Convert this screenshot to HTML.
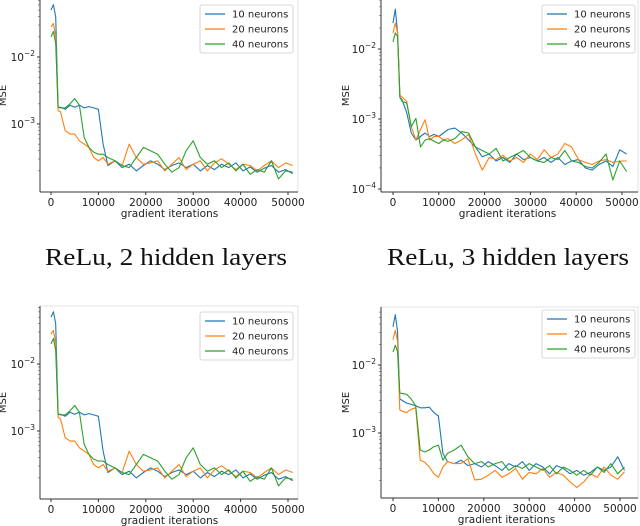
<!DOCTYPE html>
<html><head><meta charset="utf-8">
<style>
html,body{margin:0;padding:0;background:#fff;}
svg{display:block;}
text{font-family:"DejaVu Sans","Liberation Sans",sans-serif;fill:#222;}
.cap{font-family:"Liberation Serif",serif;font-size:24px;fill:#111;}
</style></head>
<body>
<svg id="fig" width="640" height="526" viewBox="0 0 640 526" xmlns="http://www.w3.org/2000/svg">
<text class="cap" x="45" y="265" textLength="242" lengthAdjust="spacingAndGlyphs">ReLu, 2 hidden layers</text>
<text class="cap" x="387" y="265" textLength="242" lengthAdjust="spacingAndGlyphs">ReLu, 3 hidden layers</text>
</svg>
<script>
const iters = [0,500,1000,1500,2000,3000,4000,5000,6000,7000,8000,9000,10000,11000,12000,13500,15000,16500,18000,19500,21000,22500,24000,25500,27000,28500,30000,31500,33000,34500,36000,37500,39000,40500,42000,43500,45000,46500,48000,49500,51000];
const xTicks = [0,10000,20000,30000,40000,50000];
const seriesNames = ["10 neurons","20 neurons","40 neurons"];
const tlBlue = [-1.3,-1.22,-1.4,-2.75,-2.75,-2.78,-2.72,-2.75,-2.72,-2.76,-2.74,-2.76,-2.78,-3.3,-3.62,-3.55,-3.65,-3.6,-3.7,-3.62,-3.55,-3.6,-3.68,-3.62,-3.58,-3.65,-3.6,-3.7,-3.62,-3.68,-3.6,-3.65,-3.58,-3.7,-3.64,-3.72,-3.66,-3.62,-3.72,-3.68,-3.74];
const tlOrange = [-1.55,-1.5,-1.7,-2.8,-2.82,-3.1,-3.15,-3.15,-3.25,-3.3,-3.35,-3.5,-3.55,-3.5,-3.6,-3.55,-3.62,-3.3,-3.5,-3.6,-3.58,-3.55,-3.7,-3.6,-3.5,-3.68,-3.6,-3.55,-3.7,-3.58,-3.52,-3.6,-3.68,-3.6,-3.62,-3.7,-3.62,-3.55,-3.65,-3.58,-3.62];
const tlGreen = [-1.7,-1.62,-1.8,-2.75,-2.76,-2.76,-2.7,-2.62,-2.72,-3.2,-3.35,-3.42,-3.45,-3.45,-3.5,-3.55,-3.62,-3.65,-3.5,-3.35,-3.4,-3.45,-3.6,-3.72,-3.65,-3.4,-3.25,-3.5,-3.6,-3.55,-3.65,-3.58,-3.7,-3.6,-3.75,-3.68,-3.72,-3.55,-3.82,-3.7,-3.72];
const trBlue = [-1.63,-1.43,-1.77,-2.69,-2.73,-2.91,-3.2,-3.3,-3.25,-3.2,-3.25,-3.22,-3.25,-3.2,-3.15,-3.13,-3.2,-3.3,-3.4,-3.54,-3.5,-3.6,-3.55,-3.62,-3.5,-3.58,-3.55,-3.6,-3.55,-3.62,-3.55,-3.65,-3.6,-3.58,-3.7,-3.73,-3.65,-3.6,-3.68,-3.44,-3.5];
const trOrange = [-1.77,-1.63,-1.77,-2.66,-2.69,-2.75,-3.11,-3.3,-3.15,-3.01,-3.3,-3.25,-3.25,-3.3,-3.28,-3.35,-3.3,-3.22,-3.5,-3.73,-3.55,-3.58,-3.52,-3.6,-3.55,-3.62,-3.5,-3.58,-3.44,-3.55,-3.5,-3.35,-3.4,-3.58,-3.62,-3.65,-3.6,-3.58,-3.62,-3.6,-3.6];
const trGreen = [-1.9,-1.77,-1.82,-2.69,-2.75,-2.77,-3.11,-2.99,-3.4,-3.3,-3.28,-3.32,-3.35,-3.3,-3.32,-3.28,-3.18,-3.2,-3.4,-3.45,-3.5,-3.42,-3.6,-3.55,-3.5,-3.45,-3.55,-3.6,-3.62,-3.55,-3.58,-3.45,-3.6,-3.62,-3.68,-3.7,-3.62,-3.5,-3.87,-3.6,-3.75];
const blBlue = [-1.3,-1.22,-1.4,-2.75,-2.75,-2.78,-2.72,-2.75,-2.72,-2.76,-2.74,-2.76,-2.78,-3.3,-3.62,-3.55,-3.65,-3.6,-3.7,-3.62,-3.55,-3.6,-3.68,-3.62,-3.58,-3.65,-3.6,-3.7,-3.62,-3.68,-3.6,-3.65,-3.58,-3.7,-3.64,-3.72,-3.66,-3.62,-3.72,-3.68,-3.74];
const blOrange = [-1.55,-1.5,-1.7,-2.8,-2.82,-3.1,-3.15,-3.15,-3.25,-3.3,-3.35,-3.5,-3.55,-3.5,-3.6,-3.55,-3.62,-3.3,-3.5,-3.6,-3.58,-3.55,-3.7,-3.6,-3.5,-3.68,-3.6,-3.55,-3.7,-3.58,-3.52,-3.6,-3.68,-3.6,-3.62,-3.7,-3.62,-3.55,-3.65,-3.58,-3.62];
const blGreen = [-1.7,-1.62,-1.8,-2.75,-2.76,-2.76,-2.7,-2.62,-2.72,-3.2,-3.35,-3.42,-3.45,-3.45,-3.5,-3.55,-3.62,-3.65,-3.5,-3.35,-3.4,-3.45,-3.6,-3.72,-3.65,-3.4,-3.25,-3.5,-3.6,-3.55,-3.65,-3.58,-3.7,-3.6,-3.75,-3.68,-3.72,-3.55,-3.82,-3.7,-3.72];
const brBlue = [-1.44,-1.26,-1.5,-2.5,-2.52,-2.56,-2.58,-2.6,-2.63,-2.63,-2.62,-2.7,-2.75,-3.3,-3.42,-3.45,-3.4,-3.48,-3.45,-3.5,-3.42,-3.48,-3.55,-3.45,-3.5,-3.42,-3.55,-3.45,-3.5,-3.6,-3.48,-3.52,-3.6,-3.55,-3.62,-3.58,-3.5,-3.55,-3.5,-3.35,-3.55];
const brOrange = [-1.63,-1.49,-1.65,-2.66,-2.68,-2.7,-2.65,-2.63,-3.4,-3.43,-3.5,-3.6,-3.65,-3.5,-3.42,-3.45,-3.45,-3.38,-3.69,-3.68,-3.62,-3.55,-3.65,-3.6,-3.52,-3.68,-3.58,-3.6,-3.52,-3.65,-3.58,-3.62,-3.72,-3.8,-3.72,-3.6,-3.65,-3.5,-3.62,-3.68,-3.57];
const brGreen = [-1.81,-1.71,-1.8,-2.41,-2.42,-2.43,-2.5,-2.6,-3.25,-3.28,-3.25,-3.2,-3.18,-3.4,-3.3,-3.25,-3.18,-3.35,-3.45,-3.42,-3.5,-3.45,-3.42,-3.55,-3.48,-3.52,-3.45,-3.5,-3.55,-3.48,-3.6,-3.5,-3.55,-3.62,-3.55,-3.62,-3.5,-3.58,-3.45,-3.6,-3.5];

const NS = "http://www.w3.org/2000/svg";
const fig = document.getElementById('fig');
const colors = ["#1f77b4","#ff7f0e","#2ca02c"];
function mk(tag, attrs, parent){const e=document.createElementNS(NS,tag);for(const k in attrs)e.setAttribute(k,attrs[k]);(parent||fig).appendChild(e);return e;}

const panels = [
  {id:"tl", left:40, right:298, top:-1, bottom:192, x0:51, x50:288, yDec:{v:-2,px:57}, decPx:67, decades:[-2,-3], ylabX:6, legX:200, legY:5, data:[tlBlue,tlOrange,tlGreen]},
  {id:"tr", left:381, right:638, top:-1, bottom:192, x0:393, x50:622, yDec:{v:-2,px:49}, decPx:70, decades:[-2,-3,-4], ylabX:349, legX:542, legY:5, data:[trBlue,trOrange,trGreen]},
  {id:"bl", left:40, right:298, top:306, bottom:499, x0:51, x50:288, yDec:{v:-2,px:364}, decPx:67, decades:[-2,-3], ylabX:6, legX:200, legY:312, data:[blBlue,blOrange,blGreen]},
  {id:"br", left:381, right:638, top:307, bottom:498, x0:393, x50:620, yDec:{v:-2,px:365}, decPx:68, decades:[-2,-3], ylabX:349, legX:542, legY:310, data:[brBlue,brOrange,brGreen]}
];

panels.forEach(p=>{
  const g = mk('g',{});
  
  
  const xs = v => p.x0 + (v/50000)*(p.x50-p.x0);
  const ys = v => p.yDec.px + (p.yDec.v - v)*p.decPx;
  const frame = mk('rect',{x:p.left,y:p.top,width:p.right-p.left,height:p.bottom-p.top,fill:'none',stroke:'#ddd','stroke-width':0.8},g);
  
  
  const xa = mk('line',{x1:p.left,x2:p.right,y1:p.bottom,y2:p.bottom,stroke:'#333','stroke-width':1},g);
  
  
  const ya = mk('line',{x1:p.left,x2:p.left,y1:p.top,y2:p.bottom,stroke:'#333','stroke-width':1},g);
  
  
  xTicks.forEach(t=>{
    const x = xs(t);
    mk('line',{x1:x,x2:x,y1:p.bottom,y2:p.bottom+3,stroke:'#333'},g);
    const tx = mk('text',{x:x,y:p.bottom+14,'font-size':10.5,'text-anchor':'middle'},g);
    tx.textContent = t;
    
    
  });
  const xt = mk('text',{x:(p.x0+p.x50)/2,y:p.bottom+25,'font-size':10.5,'text-anchor':'middle'},g);
  xt.textContent = 'gradient iterations';
  
  
  for(let d=-5; d<=0; d++){
    for(let m=2;m<=9;m++){
      const y = ys(d+Math.log10(m));
      if(y>p.top+1 && y<p.bottom-1) mk('line',{x1:p.left-2,x2:p.left,y1:y,y2:y,stroke:'#555','stroke-width':0.6},g);
    }
  }
  p.decades.forEach(d=>{
    const y = ys(d);
    mk('line',{x1:p.left-3,x2:p.left,y1:y,y2:y,stroke:'#333'},g);
    const tl = mk('text',{x:p.left-5,y:y+4,'font-size':10.5,'text-anchor':'end'},g);
    tl.innerHTML = '10<tspan dy="-5" font-size="7.5">−'+(-d)+'</tspan>';
    
    
  });
  const yl = mk('text',{x:p.ylabX,y:(p.top+p.bottom)/2,'font-size':10,'text-anchor':'middle',transform:'rotate(-90 '+p.ylabX+' '+((p.top+p.bottom)/2)+')'},g);
  yl.textContent = 'MSE';
  
  
  p.data.forEach((arr,i)=>{
    const pts = arr.map((v,k)=>xs(iters[k]).toFixed(1)+','+ys(v).toFixed(1)).join(' ');
    const pl = mk('polyline',{points:pts,fill:'none',stroke:colors[i],'stroke-width':1.1,'stroke-linejoin':'round'},g);
    
    
  });
  const leg = mk('g',{},g);
  
  
  mk('rect',{x:p.legX,y:p.legY,width:93,height:48,rx:2,fill:'#fff',stroke:'#ccc','stroke-width':0.8},leg);
  seriesNames.forEach((n,i)=>{
    const yy = p.legY+9+i*15;
    mk('line',{x1:p.legX+5,x2:p.legX+25,y1:yy,y2:yy,stroke:colors[i],'stroke-width':1.2},leg);
    const lt = mk('text',{x:p.legX+32,y:yy+3.5,'font-size':10},leg);
    lt.textContent = n;
    
    
  });
});
</script>
</body></html>
